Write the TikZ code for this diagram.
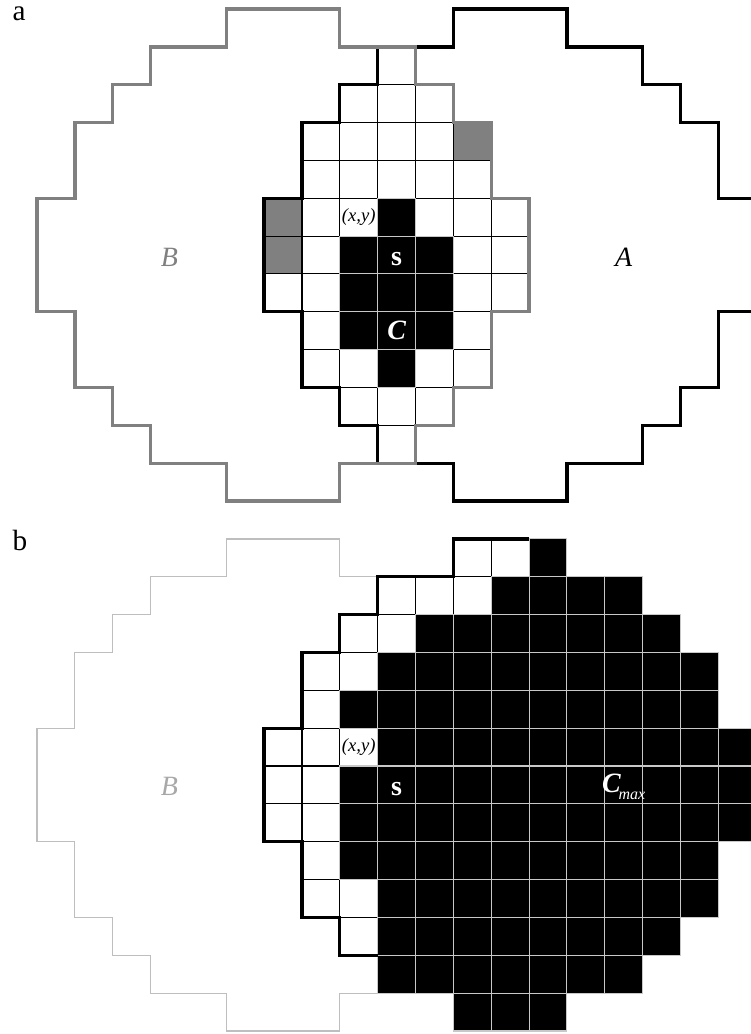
\documentclass[tikz,border=0pt]{standalone}
\usepackage{fontspec}
\setmainfont{Liberation Serif}
\usetikzlibrary{calc}
\definecolor{ink}{HTML}{000000}
\definecolor{rimGray}{HTML}{808080}
\definecolor{ghostGray}{HTML}{BEBEBE}
\definecolor{ghostText}{HTML}{A8A8A8}
\definecolor{gridPale}{HTML}{C8C8C8}
\newcommand{\PanelFont}{\fontsize{11}{13}\selectfont}
\newcommand{\SetFont}{\fontsize{10.5}{12}\selectfont\itshape}
\newcommand{\MarkFont}{\fontsize{10.5}{12}\selectfont\bfseries}
\newcommand{\PixFont}{\fontsize{7}{8}\selectfont\itshape}
\newcommand{\SubFont}{\fontsize{6}{7}\selectfont\itshape}
\tikzset{
  open cell/.style={draw=ink, line width=0.4pt, fill=white},
  hit cell/.style={draw=gridPale, line width=0.4pt, fill=ink},
  seed cell/.style={draw=ink, line width=0.4pt, fill=rimGray},
  rim a/.style={draw=ink, line width=1.25pt},
  rim b/.style={draw=rimGray, line width=1.25pt},
  ghost rim/.style={draw=ghostGray, line width=0.45pt},
  disk path/.style={insert path={(5,0) -| (8,1) -| (10,2) -| (11,3) -| (12,5) -| (13,8)
    -| (12,10) -| (11,11) -| (10,12) -| (8,13) -| (5,12) -| (3,11) -| (2,10) -| (1,8)
    -| (0,5) -| (1,3) -| (2,2) -| (3,1) -- (5,1) -- cycle}},
  panel label/.style={font=\PanelFont, anchor=base west, inner sep=0pt},
}

\begin{document}
\begin{tikzpicture}[x=5mm,y=-5mm]
  \def\Xl{-0.978}\def\Xr{18.86}\def\Yt{-0.238}\def\Yb{27.08}
  \useasboundingbox (\Xl,\Yt) rectangle (\Xr,\Yb);
  \clip (\Xl,\Yt) rectangle (\Xr,\Yb);

  % panel a
  \node[panel label] (labA) at (-0.66,0.317) {a};
  \foreach \r/\lo/\hi in {1/9/9, 2/8/10, 3/7/11, 4/7/11, 5/6/12, 6/6/12,
                          7/6/12, 8/7/11, 9/7/11, 10/8/10, 11/9/9} {
    \foreach \c in {\lo,...,\hi}
      \draw[open cell] (\c,\r) rectangle ++(1,1);
  }
  \foreach \c/\r in {11/3, 6/5, 6/6}
    \draw[seed cell] (\c,\r) rectangle ++(1,1);
  \foreach \c/\r in {9/5, 8/6, 9/6, 10/6, 8/7, 9/7, 10/7, 8/8, 9/8, 10/8, 9/9}
    \draw[hit cell] (\c,\r) rectangle ++(1,1);
  \begin{scope}[shift={(6,0)}]
    \draw[rim a, disk path];
  \end{scope}
  \draw[rim b, disk path];

  \node[font=\SetFont, text=rimGray] (setBa) at (3.5,6.55) {B};
  \node[font=\SetFont, text=ink] (setAa) at (15.5,6.55) {A};
  \node[font=\PixFont, inner sep=0pt] (pixa) at (8.5,5.5) {(x,y)};
  \node[font=\MarkFont, text=white] (seeda) at (9.5,6.6) {s};
  \node[font=\MarkFont\itshape, text=white] (compa) at (9.5,8.5) {C};

  % panel b
  \begin{scope}[shift={(0,14)}]
    \node[panel label] (labB) at (-0.66,0.317) {b};
    \draw[ghost rim, disk path];
    \foreach \r/\lo/\hi in {0/11/13, 1/9/15, 2/8/16, 3/7/17, 4/7/17, 5/6/18, 6/6/18,
                            7/6/18, 8/7/17, 9/7/17, 10/8/16, 11/9/15, 12/11/13} {
      \foreach \c in {\lo,...,\hi}
        \draw[open cell] (\c,\r) rectangle ++(1,1);
    }
    \foreach \r/\fb/\hi in {0/13/13, 1/12/15, 2/10/16, 3/9/17, 4/8/17, 5/9/18, 6/8/18,
                            7/8/18, 8/8/17, 9/9/17, 10/9/16, 11/9/15, 12/11/13} {
      \foreach \c in {\fb,...,\hi}
        \draw[hit cell] (\c,\r) rectangle ++(1,1);
    }
    \draw[rim a] (13,0) -- (11,0) |- (9,1) |- (8,2) |- (7,3) |- (6,5) |- (7,8)
      |- (8,10) |- (9,11);

    \node[font=\SetFont, text=ghostText] (setBb) at (3.5,6.55) {B};
    \node[font=\PixFont, inner sep=0pt] (pixb) at (8.5,5.5) {(x,y)};
    \node[font=\MarkFont, text=white] (seedb) at (9.5,6.6) {s};
    \node[text=white, inner sep=0pt] (maxb) at (15.5,6.55)
      {{\MarkFont\itshape C}\kern-0.8pt\raisebox{-2.4pt}{\SubFont max}};
  \end{scope}
\end{tikzpicture}
\end{document}
